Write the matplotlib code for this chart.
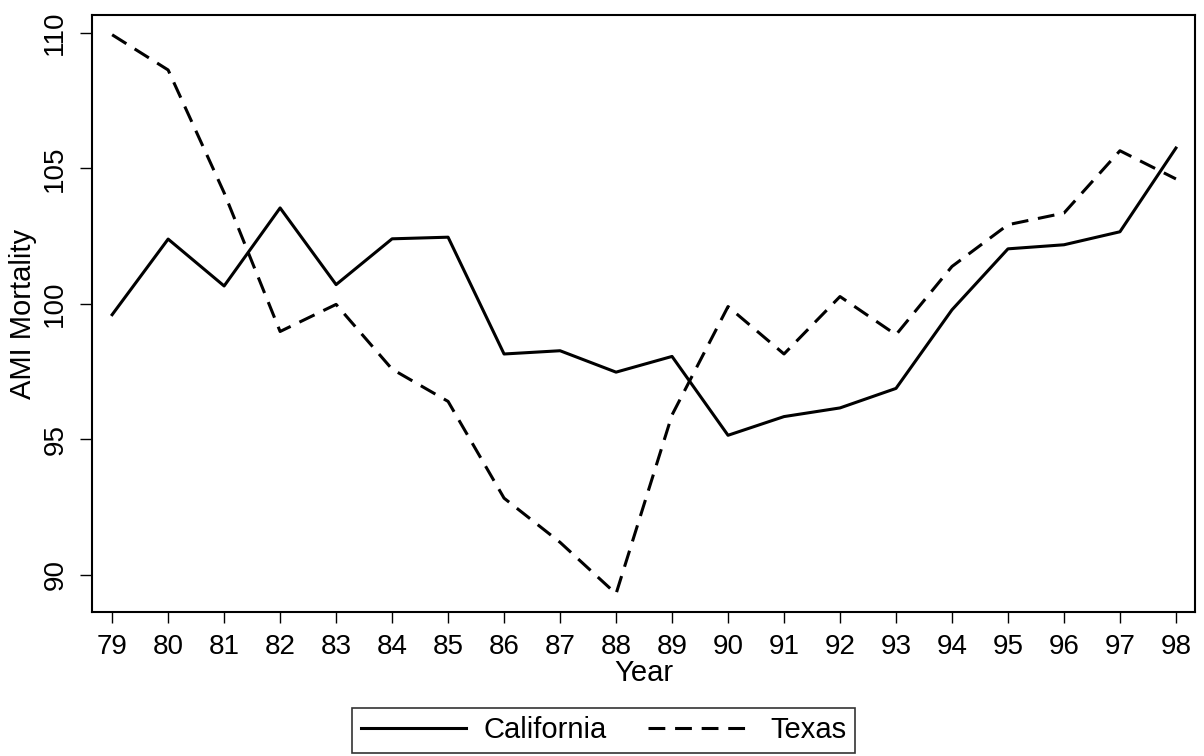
import matplotlib
matplotlib.use('Agg')
import matplotlib.pyplot as plt

plt.rcParams['font.family'] = ['Liberation Sans', 'DejaVu Sans']

years = [79, 80, 81, 82, 83, 84, 85, 86, 87, 88, 89, 90, 91, 92, 93, 94, 95, 96, 97, 98]
california = [99.6, 102.39, 100.66, 103.54, 100.71, 102.40, 102.46, 98.15, 98.27, 97.48,
              98.06, 95.15, 95.84, 96.16, 96.88, 99.78, 102.03, 102.18, 102.66, 105.75]
texas = [109.93, 108.63, 104.1, 98.98, 99.98, 97.59, 96.4, 92.83, 91.2, 89.3,
         95.9, 99.9, 98.15, 100.27, 98.86, 101.38, 102.92, 103.35, 105.65, 104.61]
yticks = [90, 95, 100, 105, 110]

fig = plt.figure(figsize=(12.04, 7.56), dpi=100)
ax = fig.add_axes([0.0764, 0.1905, 0.9161, 0.7897])

ax.plot(years, california, color='black', lw=2.2, label='California')
ax.plot(years, texas, color='black', lw=2.2, linestyle=(0, (5.5, 3.2)), label='Texas')

ax.set_xlim(78.64, 98.34)
ax.set_ylim(88.63, 110.66)
ax.set_xticks(years)
ax.set_xticklabels([str(y) for y in years])
ax.set_yticks(yticks)
ax.set_yticklabels([str(v) for v in yticks], rotation=90, va='center')

ax.tick_params(axis='both', labelsize=20, width=1, color='black', direction='out')
ax.tick_params(axis='x', length=8, pad=8)
ax.tick_params(axis='y', length=9, pad=8)
for s in ax.spines.values():
    s.set_linewidth(1.5)

ax.set_xlabel('Year', fontsize=21, labelpad=-1)
ax.set_ylabel('AMI Mortality', fontsize=21, labelpad=4)

fig.legend(loc='lower center', bbox_to_anchor=(0.5015, 0.0), ncol=2, fontsize=21,
           frameon=True, fancybox=False, edgecolor='black', handlelength=3.6,
           columnspacing=1.4, handletextpad=0.6, borderpad=0.3, borderaxespad=0.1)
fig.legends[0].get_frame().set_linewidth(1.2)

fig.savefig('out.png', dpi=100, facecolor='white')
